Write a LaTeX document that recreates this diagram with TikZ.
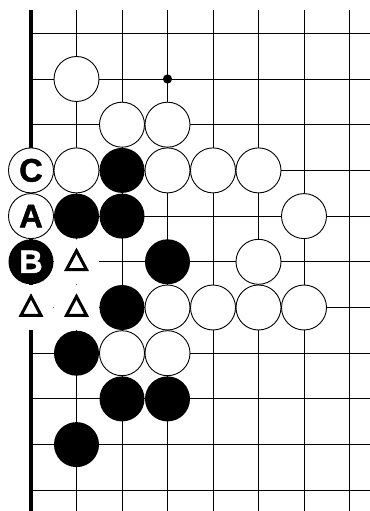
\documentclass[tikz,border=0pt]{standalone}
\usepackage{fontspec}
\setmainfont{Liberation Sans}
\newfontface\lblfont{Liberation Sans Bold}[FakeBold=1.5]
\begin{document}
\begin{tikzpicture}[x=45.5pt,y=-45.7pt,line width=0.9pt,
  wstone/.style={draw=black,fill=white,line width=0.9pt},
  bstone/.style={fill=black},
  letter/.style={font=\fontsize{32.5}{32.5}\lblfont,inner sep=0pt},
  trimark/.style={draw=black,line width=3pt,miter limit=10}]
\def\r{22.5pt}
\useasboundingbox (-0.6813,-0.7287) rectangle (7.4505,10.4530);
% grid
\foreach \y in {0,...,10} \draw (0,\y) -- (7.4505,\y);
\foreach \x in {1,...,7} \draw (\x,-0.51) -- (\x,10.4530);
\draw[line width=3.3pt] (0,-0.52) -- (0,10.4530);
\fill (3,1) circle (4.6pt);
% marked points
\foreach \x/\y in {1/5,0/6,1/6} \fill[white] (\x,\y) circle (\r);
\foreach \x/\y in {1/5,0/6,1/6}
  \draw[trimark] (\x,\y) ++(0pt,11pt) -- ++(10pt,-18.8pt) -- ++(-20pt,0pt) -- cycle;
% stones
\foreach \x/\y in {1/1,2/2,3/2,1/3,3/3,4/3,5/3,6/4,5/5,3/6,4/6,5/6,6/6,2/7,3/7}
  \filldraw[wstone] (\x,\y) circle (\r);
\foreach \x/\y in {2/3,1/4,2/4,3/5,2/6,1/7,2/8,3/8,1/9}
  \fill[bstone] (\x,\y) circle (\r);
% lettered stones
\filldraw[wstone] (0,3) circle (\r);
\filldraw[wstone] (0,4) circle (\r);
\fill[bstone] (0,5) circle (\r);
\node[letter] (stoneC) at (0,3) {C};
\node[letter] (stoneA) at (0,4) {A};
\node[letter,white] (stoneB) at (0,5) {B};
\end{tikzpicture}
\end{document}
